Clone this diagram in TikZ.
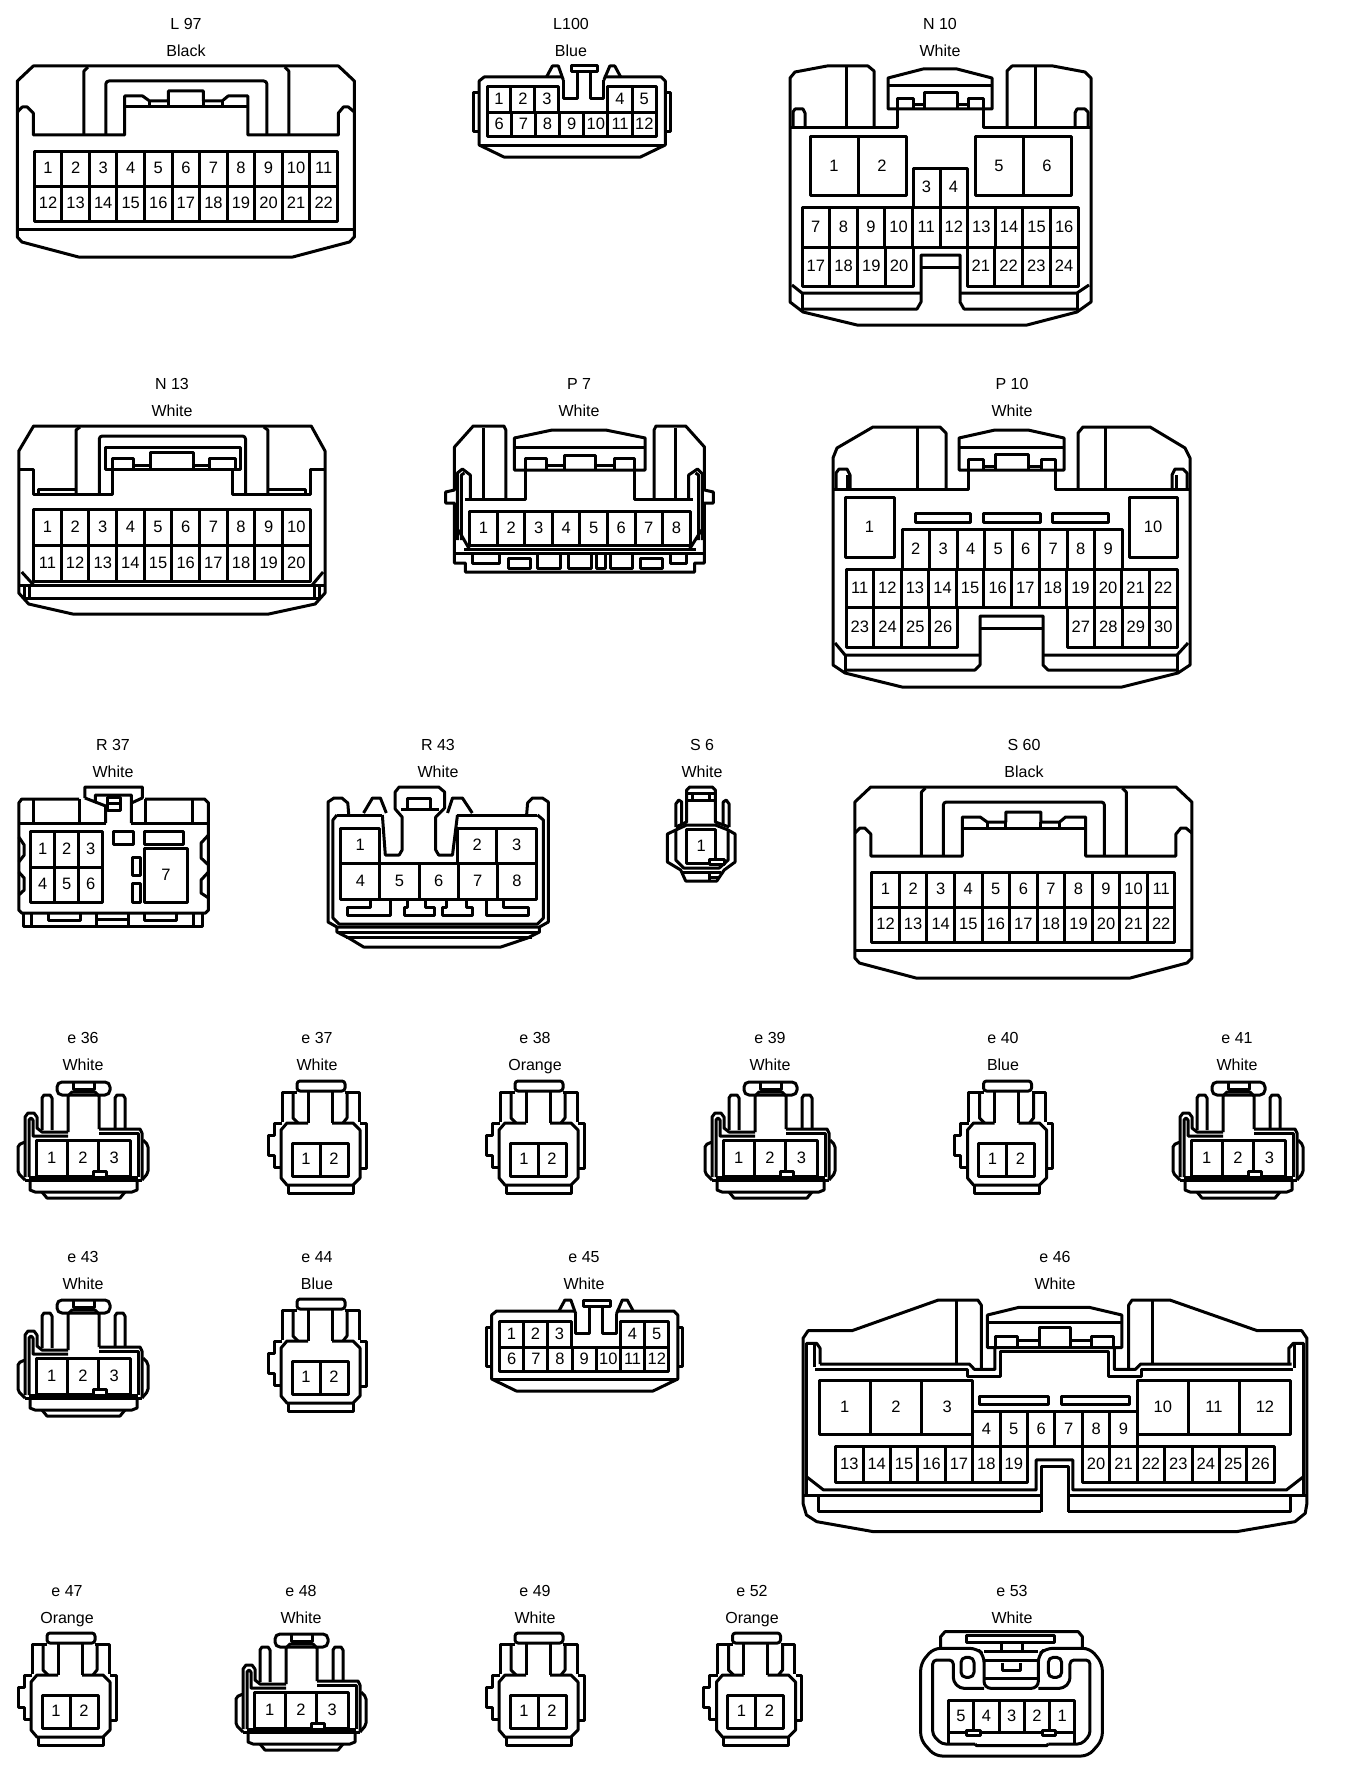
\documentclass[tikz,border=0pt]{standalone}
\usepackage{fontspec}
\setmainfont{Liberation Sans}

\tikzset{
  pinlabel/.style={font=\fontsize{16.5}{18}\selectfont, inner sep=0pt, text height=10pt, text depth=0pt},
  titlelabel/.style={font=\fontsize{16}{18}\selectfont, inner sep=0pt, text height=12pt, text depth=0pt},
  cutout/.style={rounded corners=3pt}
}

\newcommand{\connlabel}[5]{%
  \gdef\cname{#1}%
  \node[titlelabel] (#1-name) at (#2,#3) {#4};
  \node[titlelabel] (#1-colour) at (#2,#3+27) {#5};
}

% x1 y1 x2 y2, number of cells, labels
\newcommand{\pinrow}[6]{%
  \draw (#1,#2) rectangle (#3,#4);
  \foreach \lab [count=\pos] in {#6} {
    \ifnum\pos>1 \draw ({#1+(\pos-1)*(#3-#1)/#5},#2) -- ({#1+(\pos-1)*(#3-#1)/#5},#4); \fi
    \node[pinlabel] (\cname-\lab) at ({#1+(\pos-.5)*(#3-#1)/#5},{(#2+#4)/2}) {\lab};
  }
}

% L 97 and S 60
\newcommand{\wideshell}[2]{%
  \begin{scope}[shift={(#1,#2)},xscale=.994]
    \draw (35,66) -- (342,66) -- (358,81) -- (358,237) -- (353,242) -- (296,257) -- (80.5,257) -- (23.5,242) -- (19,237) -- (19,81) -- cycle;
    \draw (19,229) -- (358,229);
    \draw (19,112) -- (24,107) -- (29,107) -- (35,113) -- (35,135) -- (127,135) -- (127,96) -- (145,96) -- (152,101) -- (171,101) -- (171,91) -- (206,91) -- (206,101) -- (225,101) -- (231,96) -- (251,96) -- (251,135) -- (342,135) -- (342,113) -- (347,107) -- (352,107) -- (358,112);
    \draw (127,107) -- (251,107);
    \draw (152,101) -- (152,107) (171,101) -- (171,107) (206,101) -- (206,107) (225,101) -- (225,107);
    \draw (86,135) -- (86,71) -- (90,67);
    \draw (292,135) -- (292,71) -- (288,67);
    \draw[cutout] (108,135) -- (108,81) -- (270,81) -- (270,135);
    \pinrow{36}{151}{341}{186}{11}{1,...,11}
    \pinrow{36}{186}{341}{221}{11}{12,...,22}
  \end{scope}
}

% L100 and e 45
\newcommand{\slimshell}[2]{%
  \begin{scope}[shift={(#1,#2)},xscale=.99]
    \draw (569,77) -- (491,77) -- (486,81) -- (486,145) -- (511,157) -- (649,157) -- (674,145) -- (674,81) -- (670,77) -- (612,77);
    \draw (486,145) -- (674,145);
    \draw (486,93) -- (480.5,93) -- (480.5,132) -- (486,132);
    \draw (674,93) -- (679,93) -- (679,132) -- (674,132);
    \draw (579,66) rectangle (606,72);
    \draw (571,80) -- (571,99) -- (585,99) -- (585,72);
    \draw (598,72) -- (598,99) -- (612,99) -- (612,80);
    \draw (554,77) -- (560,66) -- (566,66) -- (571,80);
    \draw (612,80) -- (618,66) -- (623,66) -- (629,77);
    \pinrow{494}{87}{566.5}{113}{3}{1,2,3}
    \pinrow{616}{87}{665}{113}{2}{4,5}
    \pinrow{494}{113}{665}{137}{7}{6,...,12}
  \end{scope}
}

% three pin plug
\newcommand{\threepin}[2]{%
  \begin{scope}[shift={(#1,#2)}]
    \draw[rounded corners=5pt] (57,1082) rectangle (110,1095);
    \draw (73,1082) -- (73,1089) -- (94,1089) -- (94,1082);
    \draw (68,1132) -- (68,1096) -- (72,1092) -- (95,1092) -- (99,1096) -- (99,1129);
    \draw (42,1130) -- (42,1098) -- (44,1095) -- (50,1095) -- (52,1098) -- (52,1130);
    \draw (115,1129) -- (115,1098) -- (117,1095) -- (123,1095) -- (125,1098) -- (125,1129);
    \draw (25,1177) -- (25,1117) -- (28,1113) -- (34,1113) -- (37,1117) -- (37,1128) -- (42,1132) -- (68,1132);
    \draw (29,1177) -- (29,1120) -- (31,1118) -- (33,1120) -- (33,1136) -- (68,1136);
    \draw (99,1129) -- (140,1129) -- (142,1133) -- (142,1180);
    \draw (99,1133) -- (138,1133) -- (138,1177);
    \draw[rounded corners=2pt] (25,1142) -- (18,1145) -- (18,1173) -- (25,1180);
    \draw[rounded corners=2pt] (143,1140) -- (148,1145) -- (148,1173) -- (142,1180);
    \draw (25,1180) -- (142,1180);
    \draw (29,1177) -- (138,1177);
    \draw (30,1181) -- (30,1190) -- (35,1192) -- (132,1192) -- (137,1190) -- (137,1181);
    \draw (42,1192) -- (47,1198) -- (120,1198) -- (125,1192);
    \pinrow{36}{1140}{130}{1176}{3}{1,2,3}
    \draw[fill=white] (93,1171) rectangle (106,1177);
  \end{scope}
}

% two pin plug
\newcommand{\twopin}[2]{%
  \begin{scope}[shift={(#1,#2)}]
    \draw[rounded corners=3pt] (297,1081) rectangle (345,1091);
    \draw (308,1091) -- (308,1123) (332,1091) -- (332,1123);
    \draw (297,1092) -- (282,1092) -- (282,1122);
    \draw (345,1092) -- (359,1092) -- (359,1122);
    \draw (293,1092) -- (293,1118) -- (298,1123);
    \draw (347,1092) -- (347,1118) -- (343,1123);
    \draw (308,1123) -- (287,1123) -- (281,1130) -- (281,1178) -- (287,1185) -- (353,1185) -- (360,1178) -- (360,1130) -- (353,1123) -- (332,1123);
    \draw (288,1185) -- (288,1193) -- (353,1193) -- (353,1185);
    \draw (282,1123) -- (274,1123) -- (274,1135) -- (268,1135) -- (268,1155) -- (274,1155) -- (274,1167) -- (282,1167);
    \draw (360,1123) -- (366,1123) -- (366,1168) -- (360,1168);
    \pinrow{292}{1143}{348}{1176}{2}{1,2}
  \end{scope}
}

\begin{document}
\begin{tikzpicture}[x=1pt,y=-1pt,line width=3pt,line join=round]
  \useasboundingbox (0,0) rectangle (1344,1774);

  % row 1
  \connlabel{L97}{186}{24}{L 97}{Black}
  \wideshell{-1.5}{0}

  \connlabel{L100}{571}{24}{L100}{Blue}
  \slimshell{-2}{0}

  \connlabel{N10}{940}{24}{N 10}{White}
  \draw (874,127) -- (874,71) -- (868,66) -- (827,66) -- (795,72) -- (790,78) -- (790,302) -- (803,312) -- (857,325) -- (1027,325) -- (1077,312) -- (1091,302) -- (1091,78) -- (1085,72) -- (1053,66) -- (1012,66) -- (1007,71) -- (1007,127);
  \draw (846,66) -- (846,127) (1035,66) -- (1035,127);
  \draw (790,128) -- (897,128) -- (897,109) (983,109) -- (983,128) -- (1091,128);
  \draw (888,109) -- (888,78) -- (923,69) -- (957,69) -- (992,78) -- (992,109) -- cycle;
  \draw (888,86) -- (992,86);
  \draw (897,109) -- (897,99) -- (913,99) -- (913,109);
  \draw (924,109) -- (924,93) -- (957,93) -- (957,109);
  \draw (968,109) -- (968,99) -- (983,99) -- (983,109);
  \draw (913,105) -- (924,105) (957,105) -- (968,105);
  \draw (793,128) -- (793,112) -- (795,109) -- (803,109) -- (805,113) -- (805,128);
  \draw (1088,128) -- (1088,112) -- (1085,109) -- (1077,109) -- (1075,113) -- (1075,128);
  \pinrow{810}{137}{906}{195}{2}{1,2}
  \pinrow{975}{137}{1071}{195}{2}{5,6}
  \pinrow{913}{168}{967}{207}{2}{3,4}
  \pinrow{802}{207}{1078}{247}{10}{7,...,16}
  \pinrow{802}{247}{913}{286}{4}{17,...,20}
  \pinrow{967}{247}{1078}{286}{4}{21,...,24}
  \draw (802,309) -- (917,309) -- (921,302) -- (921,255) -- (960,255) -- (960,302) -- (964,309) -- (1077,309);
  \draw (921,267) -- (960,267);
  \draw (792,285) -- (802,293) -- (921,293) (960,293) -- (1077,293) -- (1089,285);
  \draw (802,293) -- (802,312) (1077,293) -- (1077,312);

  % row 2
  \connlabel{N13}{172}{383}{N 13}{White}
  \begin{scope}[xscale=.988]
    \draw (34,426) -- (315,426) -- (329,451) -- (329,593) -- (319,604) -- (272,614) -- (73.5,614) -- (29,604) -- (19,593) -- (19,451) -- cycle;
    \draw (19,469) -- (34,469) -- (34,494) -- (114,494) -- (114,469);
    \draw (235,469) -- (235,494) -- (314,494) -- (314,469) -- (329,469);
    \draw (107,447) rectangle (243,469);
    \draw (114,469) -- (114,458) -- (135,458) -- (135,469);
    \draw (152,469) -- (152,452) -- (196,452) -- (196,469);
    \draw (212,469) -- (212,458) -- (238,458) -- (238,469);
    \draw (135,465) -- (152,465) (196,465) -- (212,465);
    \draw (77,494) -- (77,430) -- (81,427) (271,494) -- (271,430) -- (267,427);
    \draw[cutout] (100.5,494) -- (100.5,436) -- (248.5,436) -- (248.5,494);
    \draw (39,494) -- (39,489) -- (76,489) (272,489) -- (309,489) -- (309,494);
    \pinrow{34}{509}{314}{545}{10}{1,...,10}
    \pinrow{34}{545}{314}{581}{10}{11,...,20}
    \draw (19,585) -- (329,585);
    \draw (25,585) -- (25,598) -- (323.5,598) -- (323.5,585);
    \draw (30,585) -- (30,598) (318,585) -- (318,598);
    \draw (22,572) -- (34,585) (327,572) -- (316,585);
  \end{scope}

  \connlabel{P7}{579}{383}{P 7}{White}
  \begin{scope}[xscale=.988]
    \draw (512,499) -- (512,430) -- (510,426) -- (479,426) -- (460,447) -- (460,490) -- (451,492) -- (451,503) -- (460,503) -- (460,563) -- (471,563) -- (471,572) -- (703,572) -- (703,563) -- (713,563) -- (713,503) -- (722,503) -- (722,492) -- (713,490) -- (713,447) -- (694,426) -- (664,426) -- (662,430) -- (662,499);
    \draw (489,428) -- (489,499) (684,428) -- (684,499);
    \draw (520.6,470) -- (520.6,438) -- (559,430) -- (613,430) -- (653,438) -- (653,470) -- cycle;
    \draw (520.6,447) -- (653,447);
    \draw (471,499) -- (532,499) -- (532,470) (642,470) -- (642,499) -- (701,499);
    \draw (532,470) -- (532,458) -- (553,458) -- (553,470);
    \draw (571,470) -- (571,455) -- (603,455) -- (603,470);
    \draw (622,470) -- (622,458) -- (642,458) -- (642,470);
    \draw (553,465) -- (571,465) (603,465) -- (622,465);
    \draw (463,540) -- (463,473) -- (468,469) -- (476,475) -- (476,499);
    \draw (467,540) -- (467,475) -- (470,473) (697,499) -- (697,475) -- (706,469) -- (711,474) -- (711,540);
    \draw (707,540) -- (707,475) -- (704,473);
    \draw (464,530) -- (475,549) (710,530) -- (698,549);
    \pinrow{475.5}{511}{698.5}{545}{8}{1,...,8}
    \draw (470,549) -- (704,549);
    \draw (460,553) -- (713,553);
    \draw (478,553) -- (478,563) -- (506,563) -- (506,553);
    \draw (515,558) rectangle (537,568);
    \draw (544,553) -- (544,568) -- (567,568) -- (567,553);
    \draw (575,553) -- (575,568) -- (599,568) -- (599,553);
    \draw (604,553) -- (604,568) -- (613,568) -- (613,553);
    \draw (618,553) -- (618,568) -- (640,568) -- (640,553);
    \draw (648,558) rectangle (671,568);
    \draw (679,553) -- (679,563) -- (695,563) -- (695,553);
  \end{scope}

  \connlabel{P10}{1012}{383}{P 10}{White}
  \draw (946,488) -- (946,433) -- (940,427) -- (873,427) -- (837,448) -- (833,458) -- (833,665) -- (845,673) -- (902,687) -- (1122,687) -- (1178,673) -- (1190,665) -- (1190,458) -- (1185,448) -- (1150,427) -- (1083,427) -- (1078,433) -- (1078,488);
  \draw (917,427) -- (917,488) (1105,427) -- (1105,488);
  \draw (833,489) -- (968,489) -- (968,470) (1055,470) -- (1055,489) -- (1190,489);
  \draw (959,470) -- (959,438) -- (995,430) -- (1028,430) -- (1064,438) -- (1064,470) -- cycle;
  \draw (959,447) -- (1064,447);
  \draw (968,470) -- (968,459) -- (983,459) -- (983,470);
  \draw (995,470) -- (995,454) -- (1028,454) -- (1028,470);
  \draw (1041,470) -- (1041,459) -- (1055,459) -- (1055,470);
  \draw (983,466) -- (995,466) (1028,466) -- (1041,466);
  \draw (836,489) -- (836,473) -- (839,469) -- (847,469) -- (850,475) -- (850,489);
  \draw (847,475) -- (847,489);
  \draw (1187,489) -- (1187,473) -- (1183,469) -- (1175,469) -- (1172,475) -- (1172,489);
  \draw (1176,475) -- (1176,489);
  \pinrow{845}{497}{894}{557}{1}{1}
  \pinrow{1129}{497}{1177}{557}{1}{10}
  \draw (915,513) rectangle (970,522);
  \draw (983,513) rectangle (1040,522);
  \draw (1052,513) rectangle (1108,522);
  \pinrow{902}{529}{1122}{569}{8}{2,...,9}
  \pinrow{846}{569}{1177}{607}{12}{11,...,22}
  \pinrow{846}{607}{957}{647}{4}{23,...,26}
  \pinrow{1067}{607}{1177}{647}{4}{27,...,30}
  \draw (845,670) -- (975,670) -- (980,665) -- (980,616) -- (1043,616) -- (1043,665) -- (1048,670) -- (1177,670);
  \draw (980,628) -- (1043,628);
  \draw (835,643) -- (845,655) -- (980,655) (1043,655) -- (1177,655) -- (1188,643);
  \draw (845,655) -- (845,673) (1177,655) -- (1177,673);

  % row 3
  \connlabel{R37}{113}{744}{R 37}{White}
  \begin{scope}[xscale=.988]
    \draw (80,799) -- (22,799) -- (19,803) -- (19,910) -- (22,913) -- (208,913) -- (211,910) -- (211,803) -- (207,799) -- (147,799);
    \draw (19,823) -- (107,823) (133,823) -- (211,823);
    \draw (34,799) -- (34,823) (80,799) -- (80,823) (147,799) -- (147,823) (195,799) -- (195,823);
    \draw (86,798) -- (86,787) -- (144,787) -- (144,798) -- (133,803) -- (133,795) -- (96.5,795) -- (96.5,802) -- (86,798);
    \draw (96.5,802) -- (107,806) -- (107,823) (133,803) -- (133,823);
    \draw (109,797) rectangle (122,810);
    \draw (109,803) -- (122,803);
    \pinrow{31}{831}{104}{867}{3}{1,2,3}
    \pinrow{31}{867}{104}{902}{3}{4,5,6}
    \pinrow{146}{848}{190}{902}{1}{7}
    \draw (115,831) rectangle (135,844);
    \draw (146,831) rectangle (186,844);
    \draw (134,857) rectangle (142,875);
    \draw (134,883) rectangle (142,902);
    \draw (19,837) -- (24.5,845) -- (24.5,855) -- (19,862);
    \draw (19,872) -- (24.5,878) -- (24.5,890) -- (19,895);
    \draw (211,835) -- (203.5,843) -- (203.5,858) -- (211,865);
    \draw (211,872) -- (203.5,880) -- (203.5,893) -- (211,898);
    \draw (23.5,913) -- (23.5,926) -- (205,926) -- (205,913);
    \draw (32,913) -- (32,926) (196,913) -- (196,926);
    \draw (49,913) -- (49,920) -- (81,920) -- (81,913);
    \draw (98,913) -- (98,926) (130,913) -- (130,926) (98,919) -- (130,919);
    \draw (146,913) -- (146,920) -- (179,920) -- (179,913);
  \end{scope}

  \connlabel{R43}{438}{744}{R 43}{White}
  \begin{scope}[xscale=.988]
    \draw (353,815) -- (352,803) -- (346,798) -- (338,798) -- (332,802) -- (332,922) -- (341,927) -- (546,927) -- (555,922) -- (555,802) -- (549,798) -- (539,798) -- (534,803) -- (533,815);
    \draw (341,815) -- (387,815) (463,815) -- (544,815);
    \draw (341,815) -- (337,820) -- (337,918) -- (343,924) -- (544,924) -- (550,918) -- (550,820) -- (544,815);
    \draw (341,927) -- (341,932) -- (353,938) -- (368,947) -- (507,947) -- (534,938) -- (546,932) -- (546,927);
    \draw (341,932) -- (546,932) (350,937) -- (538,937);
    \draw (368,813) -- (377,798) -- (385,798) -- (391,813);
    \draw (387,815) -- (390,855) -- (404,855) -- (407,850) -- (407,817) -- (400,809) -- (400,792) -- (404,787) -- (444,787) -- (450,792) -- (450,808) -- (441,817) -- (441,850) -- (444,855) -- (458,855) -- (463,815);
    \draw (406,809) -- (444,809);
    \draw (412,809) -- (412,798) -- (436,798) -- (436,809);
    \draw (453,813) -- (458,798) -- (468,798) -- (478,813);
    \pinrow{345}{828}{384}{863}{1}{1}
    \pinrow{463}{828}{543}{863}{2}{2,3}
    \pinrow{345}{863}{543}{899}{5}{4,...,8}
    \draw (375,899) -- (375,907) -- (352,907) -- (352,915) -- (395,915) -- (395,899);
    \draw (412,899) -- (412,907) -- (409,907) -- (409,915) -- (440,915) -- (440,907) -- (431,907) -- (431,899);
    \draw (452,899) -- (452,907) -- (448,907) -- (448,915) -- (478,915) -- (478,907) -- (472,907) -- (472,899);
    \draw (492,899) -- (492,915) -- (535,915) -- (535,907) -- (510,907) -- (510,899);
  \end{scope}

  \connlabel{S6}{702}{744}{S 6}{White}
  \begin{scope}[xscale=.988]
    \draw (695,808) -- (695,790) -- (698,787) -- (721,787) -- (724,790) -- (724,808);
    \draw (695,793) -- (724,793) (695,800) -- (724,800) (701,793) -- (701,800) (718,793) -- (718,800);
    \draw (684,827) -- (684,804) -- (687,800) -- (690,802) -- (690,825);
    \draw (738,827) -- (738,804) -- (735,800) -- (732,802) -- (732,825);
    \draw (684,827) -- (695,822) -- (695,808) (738,827) -- (724,822) -- (724,808);
    \draw (684,830) -- (684,860) -- (692,868) -- (728,868) -- (737,860) -- (737,830) -- (724,825) -- (695,825) -- cycle;
    \draw (684,830) -- (675.5,834) -- (675.5,862) -- (689,870) -- (694,881) -- (725.5,881) -- (733,870) -- (744,862) -- (744,834) -- (737,830);
    \pinrow{695}{829}{724.5}{863}{1}{1}
    \draw[fill=white] (718,859) rectangle (733,864);
    \draw (690,872) -- (730,872);
    \draw (718,872) -- (718,881) (718,877) -- (729,877);
  \end{scope}

  \connlabel{S60}{1024}{744}{S 60}{Black}
  \wideshell{836}{721}

  % row 4
  \connlabel{e36}{83}{1037}{e 36}{White}
  \threepin{0}{0}
  \connlabel{e37}{317}{1037}{e 37}{White}
  \twopin{0}{0}
  \connlabel{e38}{535}{1037}{e 38}{Orange}
  \twopin{218}{0}
  \connlabel{e39}{770}{1037}{e 39}{White}
  \threepin{687}{0}
  \connlabel{e40}{1003}{1037}{e 40}{Blue}
  \twopin{686.5}{0}
  \connlabel{e41}{1237}{1037}{e 41}{White}
  \threepin{1155}{0}

  % row 5
  \connlabel{e43}{83}{1256}{e 43}{White}
  \threepin{0}{218}
  \connlabel{e44}{317}{1256}{e 44}{Blue}
  \twopin{0}{218}
  \connlabel{e45}{584}{1256}{e 45}{White}
  \slimshell{10.5}{1234}

  \connlabel{e46}{1055}{1256}{e 46}{White}
  \begin{scope}[shift={(791,1250)},x=.3428pt,y=-.3333pt]
    \draw (555,355) -- (555,165) -- (545,150) -- (430,150) -- (178,242) -- (50,242) -- (35,265) -- (35,760) -- (45,795) -- (75,815) -- (240,845) -- (1300,845) -- (1470,815) -- (1500,790) -- (1505,760) -- (1505,265) -- (1490,242) -- (1360,242) -- (1105,150) -- (995,150) -- (985,165) -- (985,355);
    \draw (482,150) -- (482,342) (1055,150) -- (1055,342);
    \draw (85,342) -- (520,342) -- (535,358) -- (595,358) -- (595,290);
    \draw (70,358) -- (515,358) -- (515,378) -- (612,378) -- (612,303) -- (925,303) -- (925,378) -- (1022,378) -- (1022,358) -- (1465,358);
    \draw (1460,342) -- (1020,342) -- (1005,358) -- (943,358) -- (943,290);
    \draw (573,293) -- (573,195) -- (665,172) -- (870,172) -- (965,195) -- (965,293) -- cycle;
    \draw (573,218) -- (965,218);
    \draw (597,288) -- (597,258) -- (660,258) -- (660,288);
    \draw (725,288) -- (725,232) -- (815,232) -- (815,288);
    \draw (878,288) -- (878,258) -- (940,258) -- (940,288);
    \draw (660,272) -- (725,272) (815,272) -- (878,272);
    \draw (45,735) -- (45,280) -- (75,280) -- (85,295) -- (85,342);
    \draw (68,285) -- (68,350);
    \draw (1495,735) -- (1495,280) -- (1465,280) -- (1452,295) -- (1452,345);
    \draw (1470,285) -- (1470,355);
    \draw (45,680) -- (95,720) -- (715,720) -- (715,630) -- (822,630) -- (822,720) -- (1445,720) -- (1495,680);
    \draw (730,785) -- (730,650) -- (808,650) -- (808,785);
    \draw (35,737) -- (730,737) (808,737) -- (1505,737);
    \draw (80,737) -- (80,785) -- (730,785) (808,785) -- (1458,785) -- (1458,737);
    \pinrow{82}{392}{530}{555}{3}{1,2,3}
    \pinrow{1010}{392}{1457}{555}{3}{10,11,12}
    \draw (550,438) rectangle (750,462);
    \draw (790,438) rectangle (988,462);
    \pinrow{530}{485}{1010}{590}{6}{4,...,9}
    \pinrow{130}{590}{690}{697}{7}{13,...,19}
    \pinrow{850}{590}{1410}{697}{7}{20,...,26}
  \end{scope}

  % row 6
  \connlabel{e47}{67}{1590}{e 47}{Orange}
  \twopin{-250}{552}
  \connlabel{e48}{301}{1590}{e 48}{White}
  \threepin{218}{552}
  \connlabel{e49}{535}{1590}{e 49}{White}
  \twopin{218}{552}
  \connlabel{e52}{752}{1590}{e 52}{Orange}
  \twopin{435.5}{552}

  \connlabel{e53}{1012}{1590}{e 53}{White}
  \begin{scope}[shift={(900,1580)},x=.3333pt,y=-.3333pt]
    \draw (122,205) -- (122,170) -- (135,155) -- (535,155) -- (547,170) -- (547,205);
    \draw (200,165) rectangle (465,187);
    \draw (305,187) -- (305,215) (368,187) -- (368,215);
    \draw[rounded corners=7pt] (252,325) -- (252,225) -- (230,205) -- (100,205) -- (62,250) -- (62,480) -- (105,528) -- (565,528) -- (607,480) -- (607,250) -- (570,205) -- (437,205) -- (415,225) -- (415,325) -- cycle;
    \draw (252,215) -- (415,215) (252,240) -- (415,240) (252,295) -- (415,295);
    \draw (308,250) -- (308,270) -- (360,270) -- (360,250);
    \draw[rounded corners=5pt] (183,232) rectangle (222,292);
    \draw[rounded corners=5pt] (445,232) rectangle (485,292);
    \draw[rounded corners=4pt] (252,325) -- (180,325) -- (160,305) -- (160,240) -- (98,240) -- (98,465) -- (125,492) -- (225,492);
    \draw[rounded corners=4pt] (415,325) -- (490,325) -- (510,305) -- (510,240) -- (570,240) -- (570,465) -- (545,492) -- (445,492);
    \draw (225,492) -- (230,497) -- (440,497) -- (445,492);
    \pinrow{145}{362}{525}{457}{5}{5,4,3,2,1}
    \draw (145,457) -- (145,492) (525,457) -- (525,492);
    \draw[fill=white] (200,450) rectangle (240,467);
    \draw[fill=white] (428,450) rectangle (468,467);
  \end{scope}
\end{tikzpicture}
\end{document}
